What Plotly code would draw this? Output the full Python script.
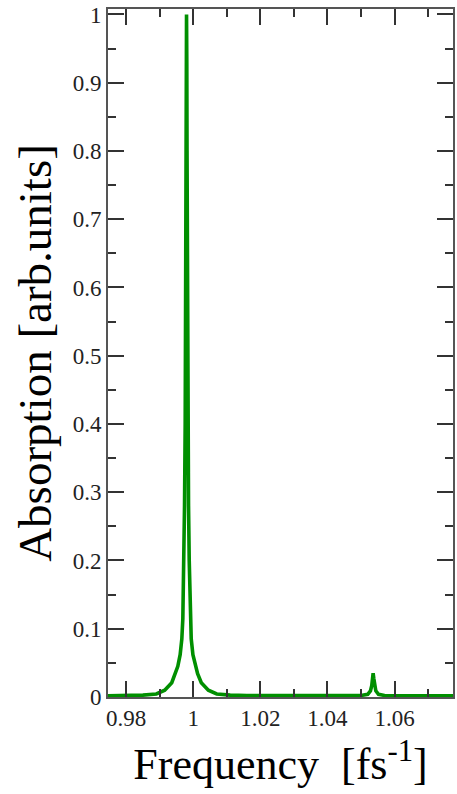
import plotly.graph_objects as go

# Frequency [fs^-1] and absorption [arb. units]
freq = [0.9746, 0.9800, 0.9850, 0.9890, 0.9915, 0.9936, 0.9947, 0.9954, 0.9961,
        0.9966, 0.9969, 0.9972, 0.9974, 0.9976, 0.99775, 0.99785, 0.99792, 0.9980,
        0.99808, 0.99815, 0.99825, 0.9984, 0.9986, 0.9988, 0.9991, 0.9994, 0.9999,
        1.0006, 1.0013, 1.0024, 1.0045, 1.0070, 1.0110, 1.0160, 1.0250, 1.0350,
        1.0450, 1.0500, 1.0520, 1.0528, 1.0532, 1.0534, 1.0536, 1.0538, 1.0540,
        1.0544, 1.0552, 1.0570, 1.0650, 1.0774]
absorption = [0.0018, 0.0020, 0.0028, 0.0045, 0.0100, 0.0210, 0.0340, 0.0450, 0.0620,
              0.0850, 0.1150, 0.2000, 0.2800, 0.4000, 0.6000, 0.8000, 0.9300, 1.0000,
              0.9300, 0.8000, 0.6000, 0.4000, 0.2800, 0.2000, 0.1150, 0.0850, 0.0620,
              0.0450, 0.0340, 0.0210, 0.0100, 0.0045, 0.0028, 0.0022, 0.0019, 0.0018,
              0.0019, 0.0022, 0.0040, 0.0090, 0.0170, 0.0270, 0.0350, 0.0270, 0.0170,
              0.0090, 0.0040, 0.0022, 0.0019, 0.0018]

x_tickvals = [0.98, 1.00, 1.02, 1.04, 1.06]
x_ticktext = ["0.98", "1", "1.02", "1.04", "1.06"]
y_tickvals = [0, 0.1, 0.2, 0.3, 0.4, 0.5, 0.6, 0.7, 0.8, 0.9, 1.0]
y_ticktext = ["0", "0.1", "0.2", "0.3", "0.4", "0.5", "0.6", "0.7", "0.8", "0.9", "1"]

SERIF = "Liberation Serif"
AX = "#555555"

fig = go.Figure()
fig.add_trace(go.Scatter(x=freq, y=absorption, mode="lines",
                         line=dict(color="#008f00", width=3.6),
                         showlegend=False, hoverinfo="skip"))

common = dict(showgrid=False, zeroline=False, showline=True, linecolor=AX, linewidth=1.6,
              mirror="ticks", ticks="inside", ticklen=16, tickwidth=1.6, tickcolor="#333333",
              tickfont=dict(family=SERIF, size=23, color="#222222"))

fig.update_xaxes(range=[0.9746, 1.0774], tickmode="array", tickvals=x_tickvals,
                 ticktext=x_ticktext,
                 minor=dict(ticks="inside", ticklen=8, tickwidth=1.6, tickcolor="#333333",
                            dtick=0.01, tick0=0.98, showgrid=False),
                 title=dict(text="Frequency&nbsp; [fs<sup>-1</sup>]",
                            font=dict(family=SERIF, size=44, color="black"), standoff=18),
                 **common)
fig.update_yaxes(range=[0, 1.008], tickmode="array", tickvals=y_tickvals,
                 ticktext=y_ticktext,
                 minor=dict(ticks="inside", ticklen=8, tickwidth=1.6, tickcolor="#333333",
                            dtick=0.05, tick0=0, showgrid=False),
                 title=dict(text="Absorption [arb.units]",
                            font=dict(family=SERIF, size=47, color="black"), standoff=6),
                 **common)

fig.update_layout(width=457, height=794, autosize=False,
                  margin=dict(l=108, r=4, t=9, b=97, autoexpand=False),
                  plot_bgcolor="white", paper_bgcolor="white")

fig.write_html("out.html", config={"displayModeBar": False})
